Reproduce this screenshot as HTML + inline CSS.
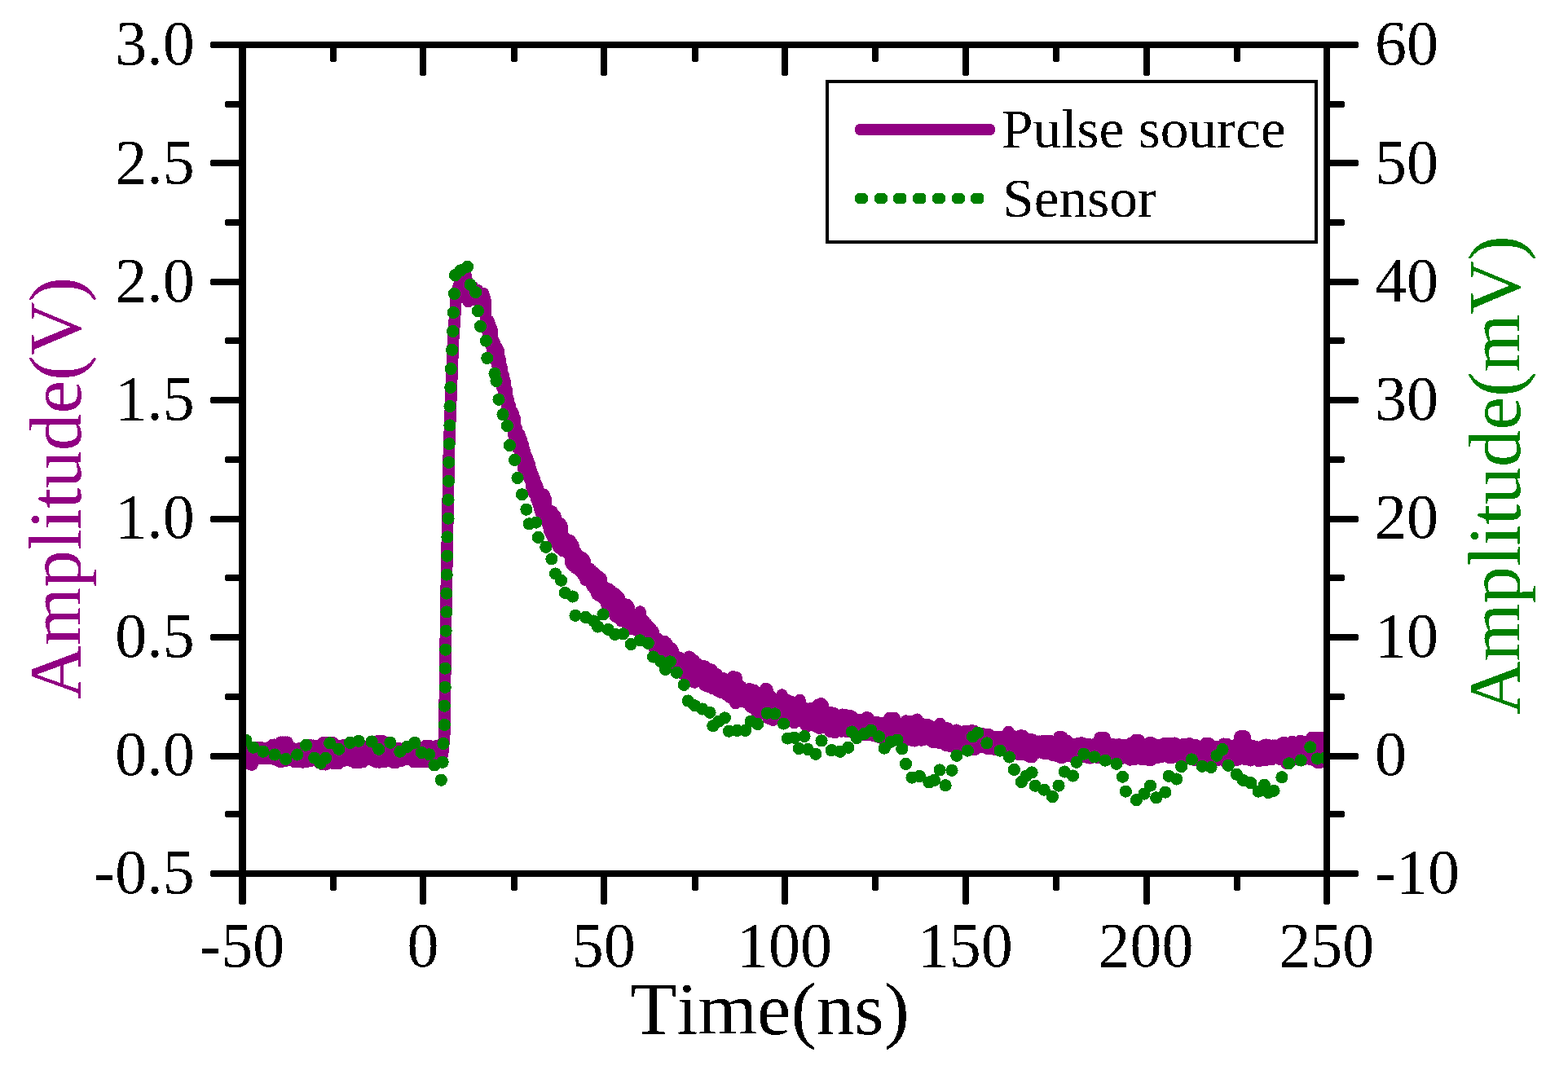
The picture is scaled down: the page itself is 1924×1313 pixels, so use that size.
<!DOCTYPE html>
<html lang="en"><head><meta charset="utf-8"><title>Pulse source vs Sensor</title>
<style>
html,body{margin:0;padding:0;background:#fff;}
body{width:1924px;height:1313px;overflow:hidden;}
svg{display:block;}
</style></head><body>
<svg width="1924" height="1313" viewBox="0 0 1924 1313" shape-rendering="crispEdges">
<rect x="0" y="0" width="1924" height="1313" fill="#fff"/>
<clipPath id="clip"><rect x="297" y="55" width="1331" height="1017"/></clipPath>
<g clip-path="url(#clip)">
<path d="M297.5 937.6 L298.5 917.4 L299.5 937.2 L300.5 917.9 L301.5 936.0 L302.5 918.6 L303.5 936.9 L304.5 918.6 L305.5 936.4 L306.5 918.7 L307.5 938.3 L308.5 918.6 L309.5 938.4 L310.5 918.8 L311.5 931.0 L312.5 918.8 L313.5 931.0 L314.5 918.9 L315.5 931.1 L316.5 917.4 L317.5 931.2 L318.5 917.4 L319.5 930.9 L320.5 917.4 L321.5 930.9 L322.5 919.3 L323.5 931.1 L324.5 919.4 L325.5 930.9 L326.5 919.2 L327.5 931.0 L328.5 919.1 L329.5 930.7 L330.5 916.7 L331.5 930.9 L332.5 916.8 L333.5 931.0 L334.5 913.9 L335.5 930.8 L336.5 913.8 L337.5 932.3 L338.5 916.2 L339.5 932.5 L340.5 916.2 L341.5 932.6 L342.5 916.2 L343.5 934.8 L344.5 910.7 L345.5 934.8 L346.5 910.7 L347.5 931.3 L348.5 910.7 L349.5 931.2 L350.5 910.7 L351.5 933.4 L352.5 910.7 L353.5 933.0 L354.5 917.8 L355.5 932.6 L356.5 917.8 L357.5 932.9 L358.5 917.7 L359.5 932.3 L360.5 919.8 L361.5 935.0 L362.5 919.7 L363.5 935.0 L364.5 919.6 L365.5 935.0 L366.5 919.3 L367.5 935.0 L368.5 918.0 L369.5 934.7 L370.5 918.4 L371.5 935.4 L372.5 918.1 L373.5 935.2 L374.5 914.8 L375.5 935.1 L376.5 915.0 L377.5 933.6 L378.5 914.8 L379.5 933.2 L380.5 914.4 L381.5 933.7 L382.5 915.2 L383.5 931.7 L384.5 914.8 L385.5 931.7 L386.5 915.6 L387.5 931.5 L388.5 915.6 L389.5 931.8 L390.5 916.2 L391.5 936.2 L392.5 916.8 L393.5 936.9 L394.5 916.5 L395.5 938.1 L396.5 911.3 L397.5 937.8 L398.5 911.3 L399.5 938.3 L400.5 911.3 L401.5 934.3 L402.5 911.3 L403.5 934.2 L404.5 911.3 L405.5 934.5 L406.5 911.3 L407.5 935.0 L408.5 911.3 L409.5 937.1 L410.5 918.9 L411.5 937.1 L412.5 918.9 L413.5 937.1 L414.5 919.1 L415.5 937.1 L416.5 915.5 L417.5 931.8 L418.5 915.6 L419.5 932.5 L420.5 914.6 L421.5 933.5 L422.5 914.4 L423.5 933.3 L424.5 914.4 L425.5 933.0 L426.5 914.9 L427.5 933.2 L428.5 916.5 L429.5 933.4 L430.5 917.0 L431.5 932.9 L432.5 917.0 L433.5 932.9 L434.5 915.2 L435.5 935.9 L436.5 915.8 L437.5 935.6 L438.5 915.5 L439.5 936.1 L440.5 915.6 L441.5 935.1 L442.5 915.9 L443.5 935.3 L444.5 916.0 L445.5 935.2 L446.5 915.8 L447.5 931.0 L448.5 918.9 L449.5 930.7 L450.5 918.4 L451.5 930.8 L452.5 918.7 L453.5 931.1 L454.5 917.5 L455.5 932.5 L456.5 917.5 L457.5 932.7 L458.5 919.9 L459.5 932.9 L460.5 919.8 L461.5 935.3 L462.5 909.5 L463.5 935.1 L464.5 909.5 L465.5 935.5 L466.5 909.5 L467.5 935.2 L468.5 909.5 L469.5 935.2 L470.5 909.5 L471.5 934.5 L472.5 916.2 L473.5 934.5 L474.5 916.2 L475.5 932.5 L476.5 919.5 L477.5 931.7 L478.5 919.6 L479.5 931.5 L480.5 917.3 L481.5 935.5 L482.5 917.4 L483.5 935.9 L484.5 918.5 L485.5 936.1 L486.5 918.3 L487.5 933.1 L488.5 918.8 L489.5 933.0 L490.5 918.5 L491.5 933.3 L492.5 918.9 L493.5 933.5 L494.5 918.6 L495.5 930.6 L496.5 919.7 L497.5 931.9 L498.5 919.7 L499.5 932.0 L500.5 920.0 L501.5 931.9 L502.5 919.7 L503.5 931.9 L504.5 918.4 L505.5 932.2 L506.5 918.0 L507.5 935.0 L508.5 920.1 L509.5 935.0 L510.5 919.8 L511.5 935.0 L512.5 916.8 L513.5 935.0 L514.5 917.8 L515.5 933.6 L516.5 917.8 L517.5 934.0 L518.5 918.0 L519.5 934.6 L520.5 918.0 L521.5 934.5 L522.5 915.1 L523.5 935.2 L524.5 915.1 L525.5 930.7 L526.5 915.1 L527.5 931.2 L528.5 916.6 L529.5 931.0 L530.5 916.6 L531.5 930.9 L532.5 917.1 L533.5 933.3 L534.5 915.6 L535.5 933.4 L536.5 915.8 L537.5 934.7 L538.5 915.7 L539.5 934.9 L540.5 916.1 L543.0 926.0 L545.2 904.0 L547.4 740.0 L550.9 553.0 L556.0 419.0 L559.5 368.0 L563.0 350.0 L572.0 339.0 L574.5 370.0 L580.0 352.0 L583.0 368.0 L586.0 356.0 L589.0 371.0 L593.0 360.0 L595.4 368.6 L595.6 385.0 L598.5 407.7 L599.5 393.5 L600.5 418.7 L601.5 399.1 L602.5 424.0 L603.5 404.1 L604.5 429.9 L605.5 417.5 L606.5 438.3 L607.5 422.4 L608.5 442.7 L609.5 426.0 L610.5 449.3 L611.5 429.6 L612.5 453.2 L613.5 440.3 L614.5 468.6 L615.5 450.4 L616.5 476.1 L617.5 459.9 L618.5 484.0 L619.5 467.3 L620.5 491.8 L621.5 477.6 L622.5 499.0 L623.5 489.2 L624.5 508.6 L625.5 496.9 L626.5 516.4 L627.5 504.3 L628.5 524.0 L629.5 506.6 L630.5 534.6 L631.5 513.0 L632.5 541.6 L633.5 524.8 L634.5 549.2 L635.5 531.5 L636.5 551.3 L637.5 533.1 L638.5 557.1 L639.5 538.5 L640.5 562.6 L641.5 544.7 L642.5 576.2 L643.5 552.4 L644.5 581.7 L645.5 558.7 L646.5 579.7 L647.5 563.3 L648.5 584.3 L649.5 568.6 L650.5 589.4 L651.5 576.2 L652.5 598.6 L653.5 581.5 L654.5 604.2 L655.5 587.0 L656.5 606.9 L657.5 592.6 L658.5 613.0 L659.5 597.2 L660.5 618.9 L661.5 603.5 L662.5 625.6 L663.5 607.0 L664.5 631.8 L665.5 611.7 L666.5 635.5 L667.5 606.8 L668.5 636.9 L669.5 611.7 L670.5 640.3 L671.5 624.3 L672.5 644.6 L673.5 628.0 L674.5 652.1 L675.5 631.9 L676.5 656.4 L677.5 627.5 L678.5 660.5 L679.5 630.9 L680.5 662.7 L681.5 633.1 L682.5 665.2 L683.5 643.6 L684.5 670.2 L685.5 646.7 L686.5 672.7 L687.5 642.2 L688.5 672.7 L689.5 645.2 L690.5 676.1 L691.5 658.0 L692.5 672.8 L693.5 660.5 L694.5 675.6 L695.5 663.2 L696.5 678.4 L697.5 665.8 L698.5 681.0 L699.5 663.2 L700.5 691.5 L701.5 665.8 L702.5 694.1 L703.5 669.2 L704.5 694.8 L705.5 675.7 L706.5 697.5 L707.5 678.5 L708.5 697.1 L709.5 681.3 L710.5 699.2 L711.5 684.1 L712.5 702.1 L713.5 683.5 L714.5 704.3 L715.5 685.2 L716.5 707.1 L717.5 687.7 L718.5 711.6 L719.5 694.9 L720.5 710.6 L721.5 697.2 L722.5 712.6 L723.5 697.5 L724.5 715.1 L725.5 699.7 L726.5 719.4 L727.5 702.3 L728.5 721.4 L729.5 703.1 L730.5 723.9 L731.5 705.1 L732.5 729.2 L733.5 707.9 L734.5 730.8 L735.5 708.1 L736.5 730.3 L737.5 709.7 L738.5 733.0 L739.5 718.2 L740.5 734.6 L741.5 720.4 L742.5 737.0 L743.5 722.4 L744.5 742.7 L745.5 724.7 L746.5 744.7 L747.5 722.8 L748.5 747.1 L749.5 724.5 L750.5 748.6 L751.5 726.7 L752.5 750.3 L753.5 728.7 L754.5 755.6 L755.5 728.8 L756.5 757.5 L757.5 731.0 L758.5 757.5 L759.5 733.0 L760.5 759.9 L761.5 737.5 L762.5 762.2 L763.5 739.5 L764.5 761.0 L765.5 741.4 L766.5 762.7 L767.5 743.6 L768.5 764.5 L769.5 742.1 L770.5 765.4 L771.5 744.7 L772.5 767.4 L773.5 752.1 L774.5 772.2 L775.5 754.4 L776.5 768.5 L777.5 755.7 L778.5 770.1 L779.5 757.9 L780.5 772.1 L781.5 757.9 L782.5 774.4 L783.5 760.1 L784.5 776.2 L785.5 750.6 L786.5 778.3 L787.5 759.9 L788.5 780.0 L789.5 761.4 L790.5 782.7 L791.5 763.6 L792.5 784.3 L793.5 765.6 L794.5 786.4 L795.5 768.5 L796.5 787.5 L797.5 769.8 L798.5 789.3 L799.5 772.7 L800.5 791.6 L801.5 774.5 L802.5 795.5 L803.5 780.5 L804.5 798.0 L805.5 782.6 L806.5 802.7 L807.5 784.4 L808.5 805.3 L809.5 786.4 L810.5 807.0 L811.5 787.4 L812.5 808.7 L813.5 789.6 L814.5 811.5 L815.5 787.1 L816.5 812.4 L817.5 788.5 L818.5 814.6 L819.5 791.5 L820.5 817.1 L821.5 793.8 L822.5 818.8 L823.5 795.3 L824.5 817.5 L825.5 797.6 L826.5 819.3 L827.5 803.2 L828.5 821.5 L829.5 805.2 L830.5 821.3 L831.5 806.8 L832.5 822.4 L833.5 807.9 L834.5 823.3 L835.5 807.5 L836.5 824.3 L837.5 808.6 L838.5 827.5 L839.5 809.1 L840.5 828.9 L841.5 810.3 L842.5 831.4 L843.5 811.0 L844.5 832.7 L845.5 805.7 L846.5 833.7 L847.5 806.9 L848.5 835.5 L849.5 809.6 L850.5 836.8 L851.5 810.3 L852.5 837.5 L853.5 814.0 L854.5 834.0 L855.5 814.4 L856.5 835.2 L857.5 817.6 L858.5 835.7 L859.5 818.6 L860.5 836.8 L861.5 819.2 L862.5 837.6 L863.5 817.4 L864.5 840.7 L865.5 818.1 L866.5 841.8 L867.5 819.8 L868.5 842.0 L869.5 820.7 L870.5 843.1 L871.5 821.3 L872.5 843.6 L873.5 822.1 L874.5 845.0 L875.5 825.2 L876.5 845.0 L877.5 826.2 L878.5 845.7 L879.5 827.4 L880.5 847.8 L881.5 830.7 L882.5 848.4 L883.5 833.3 L884.5 849.6 L885.5 834.1 L886.5 850.0 L887.5 832.3 L888.5 850.6 L889.5 833.8 L890.5 852.0 L891.5 834.6 L892.5 853.3 L893.5 835.4 L894.5 855.1 L895.5 838.2 L896.5 856.0 L897.5 839.1 L898.5 856.5 L899.5 830.2 L900.5 857.5 L901.5 831.2 L902.5 863.0 L903.5 831.4 L904.5 857.6 L905.5 840.6 L906.5 858.9 L907.5 841.0 L908.5 859.7 L909.5 842.5 L910.5 860.7 L911.5 845.6 L912.5 860.7 L913.5 846.6 L914.5 861.6 L915.5 847.2 L916.5 862.9 L917.5 848.1 L918.5 864.0 L919.5 845.4 L920.5 867.0 L921.5 845.8 L922.5 867.6 L923.5 846.9 L924.5 869.2 L925.5 847.0 L926.5 869.7 L927.5 851.3 L928.5 873.8 L929.5 852.3 L930.5 875.1 L931.5 853.4 L932.5 875.3 L933.5 850.4 L934.5 875.0 L935.5 851.1 L936.5 875.7 L937.5 852.1 L938.5 875.8 L939.5 845.1 L940.5 877.0 L941.5 846.1 L942.5 881.5 L943.5 853.8 L944.5 877.7 L945.5 854.3 L946.5 878.4 L947.5 859.7 L948.5 883.7 L949.5 860.1 L950.5 875.1 L951.5 860.8 L952.5 875.3 L953.5 861.2 L954.5 881.3 L955.5 860.2 L956.5 881.4 L957.5 860.8 L958.5 882.0 L959.5 852.6 L960.5 882.4 L961.5 858.1 L962.5 877.3 L963.5 859.1 L964.5 878.2 L965.5 858.9 L966.5 878.5 L967.5 860.2 L968.5 879.9 L969.5 860.5 L970.5 885.3 L971.5 861.3 L972.5 885.5 L973.5 861.7 L974.5 886.9 L975.5 862.0 L976.5 882.5 L977.5 863.3 L978.5 883.7 L979.5 863.2 L980.5 884.2 L981.5 859.1 L982.5 884.8 L983.5 867.7 L984.5 885.5 L985.5 868.2 L986.5 885.8 L987.5 869.1 L988.5 889.9 L989.5 871.5 L990.5 890.9 L991.5 871.8 L992.5 890.6 L993.5 872.2 L994.5 887.5 L995.5 869.1 L996.5 888.3 L997.5 869.5 L998.5 888.4 L999.5 870.2 L1000.5 888.7 L1001.5 870.2 L1002.5 892.5 L1003.5 865.0 L1004.5 893.5 L1005.5 866.0 L1006.5 893.5 L1007.5 863.3 L1008.5 889.4 L1009.5 864.8 L1010.5 889.8 L1011.5 877.0 L1012.5 890.1 L1013.5 877.5 L1014.5 893.8 L1015.5 878.1 L1016.5 893.8 L1017.5 878.4 L1018.5 897.6 L1019.5 874.5 L1020.5 897.7 L1021.5 874.8 L1022.5 897.9 L1023.5 875.4 L1024.5 899.1 L1025.5 879.2 L1026.5 893.6 L1027.5 879.8 L1028.5 894.2 L1029.5 880.2 L1030.5 894.4 L1031.5 880.5 L1032.5 897.4 L1033.5 876.7 L1034.5 895.5 L1035.5 877.4 L1036.5 895.8 L1037.5 877.6 L1038.5 897.6 L1039.5 877.7 L1040.5 897.8 L1041.5 878.1 L1042.5 897.9 L1043.5 878.2 L1044.5 898.3 L1045.5 879.3 L1046.5 899.1 L1047.5 883.5 L1048.5 899.0 L1049.5 883.4 L1050.5 899.7 L1051.5 883.0 L1052.5 899.2 L1053.5 883.4 L1054.5 901.7 L1055.5 884.0 L1056.5 901.8 L1057.5 883.2 L1058.5 901.6 L1059.5 883.2 L1060.5 902.0 L1061.5 883.9 L1062.5 900.6 L1063.5 880.3 L1064.5 900.9 L1065.5 880.9 L1066.5 902.0 L1067.5 885.7 L1068.5 902.0 L1069.5 886.1 L1070.5 902.4 L1071.5 886.2 L1072.5 903.0 L1073.5 886.7 L1074.5 903.5 L1075.5 886.3 L1076.5 903.8 L1077.5 886.5 L1078.5 904.7 L1079.5 887.0 L1080.5 905.4 L1081.5 887.7 L1082.5 905.5 L1083.5 887.5 L1084.5 901.6 L1085.5 887.3 L1086.5 901.3 L1087.5 887.8 L1088.5 901.6 L1089.5 887.5 L1090.5 901.7 L1091.5 881.0 L1092.5 902.5 L1093.5 881.0 L1094.5 902.3 L1095.5 881.0 L1096.5 902.8 L1097.5 881.0 L1098.5 905.7 L1099.5 887.3 L1100.5 906.2 L1101.5 887.7 L1102.5 905.8 L1103.5 887.5 L1104.5 906.5 L1105.5 888.1 L1106.5 906.9 L1107.5 888.3 L1108.5 906.7 L1109.5 888.1 L1110.5 907.1 L1111.5 884.5 L1112.5 905.5 L1113.5 884.9 L1114.5 905.6 L1115.5 885.0 L1116.5 908.2 L1117.5 885.4 L1118.5 908.4 L1119.5 889.3 L1120.5 908.9 L1121.5 889.3 L1122.5 909.3 L1123.5 889.7 L1124.5 906.9 L1125.5 882.8 L1126.5 907.9 L1127.5 887.9 L1128.5 908.2 L1129.5 888.2 L1130.5 908.4 L1131.5 888.7 L1132.5 908.2 L1133.5 888.7 L1134.5 905.4 L1135.5 889.1 L1136.5 905.3 L1137.5 889.2 L1138.5 905.8 L1139.5 889.6 L1140.5 905.6 L1141.5 892.5 L1142.5 909.4 L1143.5 892.9 L1144.5 910.7 L1145.5 891.9 L1146.5 910.9 L1147.5 892.0 L1148.5 910.8 L1149.5 892.1 L1150.5 910.6 L1151.5 892.6 L1152.5 911.7 L1153.5 887.9 L1154.5 908.5 L1155.5 894.6 L1156.5 908.7 L1157.5 895.0 L1158.5 912.7 L1159.5 895.4 L1160.5 914.7 L1161.5 893.4 L1162.5 914.2 L1163.5 893.8 L1164.5 915.4 L1165.5 897.9 L1166.5 916.2 L1167.5 898.1 L1168.5 916.1 L1169.5 898.4 L1170.5 916.8 L1171.5 899.0 L1172.5 916.7 L1173.5 895.8 L1174.5 916.3 L1175.5 896.5 L1176.5 916.8 L1177.5 898.9 L1178.5 917.3 L1179.5 899.3 L1180.5 912.8 L1181.5 899.5 L1182.5 913.2 L1183.5 897.3 L1184.5 913.5 L1185.5 897.3 L1186.5 913.4 L1187.5 900.1 L1188.5 918.0 L1189.5 900.4 L1190.5 918.8 L1191.5 896.5 L1192.5 918.9 L1193.5 896.5 L1194.5 919.7 L1195.5 897.0 L1196.5 919.8 L1197.5 902.6 L1198.5 916.0 L1199.5 902.6 L1200.5 916.0 L1201.5 901.4 L1202.5 916.2 L1203.5 901.3 L1204.5 916.4 L1205.5 900.4 L1206.5 915.7 L1207.5 900.8 L1208.5 915.8 L1209.5 901.1 L1210.5 918.5 L1211.5 901.1 L1212.5 918.4 L1213.5 901.3 L1214.5 919.0 L1215.5 903.8 L1216.5 919.0 L1217.5 904.1 L1218.5 919.3 L1219.5 904.2 L1220.5 919.7 L1221.5 903.9 L1222.5 919.5 L1223.5 904.1 L1224.5 916.7 L1225.5 903.9 L1226.5 916.9 L1227.5 903.9 L1228.5 920.6 L1229.5 904.2 L1230.5 918.3 L1231.5 904.6 L1232.5 918.2 L1233.5 904.6 L1234.5 918.3 L1235.5 904.6 L1236.5 918.8 L1237.5 897.9 L1238.5 924.6 L1239.5 902.8 L1240.5 920.6 L1241.5 903.1 L1242.5 920.5 L1243.5 903.4 L1244.5 920.7 L1245.5 906.0 L1246.5 923.9 L1247.5 906.0 L1248.5 923.4 L1249.5 906.2 L1250.5 926.1 L1251.5 902.7 L1252.5 926.2 L1253.5 902.6 L1254.5 921.4 L1255.5 903.1 L1256.5 923.7 L1257.5 908.0 L1258.5 924.0 L1259.5 908.5 L1260.5 927.5 L1261.5 909.0 L1262.5 928.0 L1263.5 907.3 L1264.5 929.1 L1265.5 907.2 L1266.5 928.9 L1267.5 907.9 L1268.5 923.8 L1269.5 910.1 L1270.5 923.9 L1271.5 910.5 L1272.5 922.7 L1273.5 909.8 L1274.5 923.3 L1275.5 909.7 L1276.5 923.3 L1277.5 910.1 L1278.5 923.5 L1279.5 909.2 L1280.5 924.5 L1281.5 909.1 L1282.5 924.9 L1283.5 909.7 L1284.5 924.9 L1285.5 909.5 L1286.5 925.0 L1287.5 909.4 L1288.5 925.4 L1289.5 909.4 L1290.5 925.8 L1291.5 911.8 L1292.5 927.2 L1293.5 911.7 L1294.5 927.3 L1295.5 912.0 L1296.5 927.0 L1297.5 911.9 L1298.5 927.4 L1299.5 904.2 L1300.5 929.5 L1301.5 905.0 L1302.5 929.4 L1303.5 904.6 L1304.5 929.5 L1305.5 909.5 L1306.5 927.8 L1307.5 909.2 L1308.5 927.5 L1309.5 908.9 L1310.5 927.7 L1311.5 913.5 L1312.5 928.2 L1313.5 913.8 L1314.5 927.5 L1315.5 913.1 L1316.5 927.6 L1317.5 913.4 L1318.5 927.6 L1319.5 913.3 L1320.5 927.8 L1321.5 913.5 L1322.5 926.7 L1323.5 911.9 L1324.5 927.0 L1325.5 911.8 L1326.5 926.9 L1327.5 911.5 L1328.5 928.5 L1329.5 912.4 L1330.5 928.5 L1331.5 913.7 L1332.5 928.8 L1333.5 913.4 L1334.5 929.9 L1335.5 913.7 L1336.5 930.3 L1337.5 913.6 L1338.5 930.3 L1339.5 913.9 L1340.5 927.7 L1341.5 914.0 L1342.5 927.6 L1343.5 913.9 L1344.5 927.9 L1345.5 911.6 L1346.5 929.6 L1347.5 911.7 L1348.5 929.5 L1349.5 905.3 L1350.5 927.2 L1351.5 905.3 L1352.5 929.7 L1353.5 905.3 L1354.5 929.2 L1355.5 905.3 L1356.5 927.7 L1357.5 913.3 L1358.5 927.7 L1359.5 913.4 L1360.5 927.9 L1361.5 913.0 L1362.5 928.0 L1363.5 913.6 L1364.5 929.0 L1365.5 913.6 L1366.5 928.8 L1367.5 913.8 L1368.5 928.8 L1369.5 913.7 L1370.5 931.6 L1371.5 913.8 L1372.5 931.6 L1373.5 913.5 L1374.5 931.6 L1375.5 914.1 L1376.5 927.5 L1377.5 915.8 L1378.5 929.9 L1379.5 915.8 L1380.5 929.9 L1381.5 914.1 L1382.5 929.8 L1383.5 914.1 L1384.5 930.0 L1385.5 914.3 L1386.5 932.4 L1387.5 912.0 L1388.5 931.7 L1389.5 912.1 L1390.5 931.7 L1391.5 912.2 L1392.5 931.8 L1393.5 907.9 L1394.5 930.4 L1395.5 908.4 L1396.5 930.5 L1397.5 908.2 L1398.5 930.6 L1399.5 913.4 L1400.5 931.6 L1401.5 913.7 L1402.5 931.4 L1403.5 914.3 L1404.5 931.4 L1405.5 914.1 L1406.5 931.5 L1407.5 914.5 L1408.5 932.2 L1409.5 911.5 L1410.5 933.0 L1411.5 911.5 L1412.5 932.7 L1413.5 911.5 L1414.5 929.8 L1415.5 914.2 L1416.5 929.9 L1417.5 913.9 L1418.5 929.5 L1419.5 914.2 L1420.5 929.7 L1421.5 914.8 L1422.5 928.3 L1423.5 914.7 L1424.5 928.5 L1425.5 914.4 L1426.5 928.4 L1427.5 912.6 L1428.5 927.9 L1429.5 912.6 L1430.5 928.1 L1431.5 912.5 L1432.5 927.9 L1433.5 912.6 L1434.5 929.8 L1435.5 912.0 L1436.5 929.7 L1437.5 911.9 L1438.5 929.7 L1439.5 911.9 L1440.5 927.9 L1441.5 911.7 L1442.5 928.1 L1443.5 914.0 L1444.5 927.8 L1445.5 914.3 L1446.5 927.8 L1447.5 914.2 L1448.5 930.3 L1449.5 914.2 L1450.5 930.7 L1451.5 913.2 L1452.5 930.3 L1453.5 913.1 L1454.5 930.7 L1455.5 913.0 L1456.5 930.8 L1457.5 912.9 L1458.5 930.9 L1459.5 912.3 L1460.5 928.5 L1461.5 914.1 L1462.5 931.4 L1463.5 913.8 L1464.5 931.2 L1465.5 914.0 L1466.5 933.1 L1467.5 914.2 L1468.5 933.0 L1469.5 916.9 L1470.5 929.1 L1471.5 916.9 L1472.5 929.2 L1473.5 916.9 L1474.5 929.1 L1475.5 915.6 L1476.5 929.5 L1477.5 915.4 L1478.5 930.9 L1479.5 912.0 L1480.5 931.3 L1481.5 911.9 L1482.5 930.9 L1483.5 912.4 L1484.5 929.5 L1485.5 916.4 L1486.5 929.3 L1487.5 916.2 L1488.5 929.6 L1489.5 916.1 L1490.5 932.7 L1491.5 916.3 L1492.5 932.8 L1493.5 916.5 L1494.5 932.8 L1495.5 916.6 L1496.5 931.5 L1497.5 916.1 L1498.5 931.6 L1499.5 916.5 L1500.5 931.3 L1501.5 912.7 L1502.5 931.6 L1503.5 912.9 L1504.5 935.6 L1505.5 912.9 L1506.5 935.4 L1507.5 916.5 L1508.5 928.9 L1509.5 916.5 L1510.5 928.9 L1511.5 917.5 L1512.5 932.3 L1513.5 917.2 L1514.5 932.1 L1515.5 914.2 L1516.5 933.1 L1517.5 914.3 L1518.5 932.6 L1519.5 914.3 L1520.5 929.9 L1521.5 903.6 L1522.5 930.1 L1523.5 903.6 L1524.5 930.1 L1525.5 903.6 L1526.5 929.9 L1527.5 903.6 L1528.5 932.1 L1529.5 917.0 L1530.5 931.6 L1531.5 917.1 L1532.5 931.8 L1533.5 914.8 L1534.5 933.3 L1535.5 914.7 L1536.5 929.0 L1537.5 915.3 L1538.5 929.3 L1539.5 916.1 L1540.5 929.1 L1541.5 916.2 L1542.5 929.4 L1543.5 916.8 L1544.5 934.0 L1545.5 916.8 L1546.5 932.4 L1547.5 917.1 L1548.5 932.6 L1549.5 916.9 L1550.5 932.5 L1551.5 914.3 L1552.5 932.9 L1553.5 913.8 L1554.5 932.4 L1555.5 914.0 L1556.5 932.2 L1557.5 917.7 L1558.5 931.9 L1559.5 917.6 L1560.5 932.0 L1561.5 914.7 L1562.5 929.1 L1563.5 914.7 L1564.5 929.4 L1565.5 914.8 L1566.5 930.0 L1567.5 914.7 L1568.5 930.2 L1569.5 918.1 L1570.5 931.7 L1571.5 918.2 L1572.5 931.6 L1573.5 911.5 L1574.5 931.5 L1575.5 911.0 L1576.5 931.6 L1577.5 918.3 L1578.5 936.6 L1579.5 918.6 L1580.5 936.9 L1581.5 917.2 L1582.5 933.3 L1583.5 917.1 L1584.5 932.9 L1585.5 909.9 L1586.5 931.3 L1587.5 914.3 L1588.5 931.4 L1589.5 914.7 L1590.5 931.1 L1591.5 914.6 L1592.5 931.7 L1593.5 914.4 L1594.5 931.6 L1595.5 908.9 L1596.5 932.3 L1597.5 909.7 L1598.5 932.6 L1599.5 910.0 L1600.5 930.1 L1601.5 918.5 L1602.5 930.2 L1603.5 918.4 L1604.5 930.2 L1605.5 918.4 L1606.5 930.6 L1607.5 918.5 L1608.5 932.2 L1609.5 905.0 L1610.5 932.4 L1611.5 905.0 L1612.5 930.9 L1613.5 905.0 L1614.5 931.0 L1615.5 905.0 L1616.5 935.7 L1617.5 905.0 L1618.5 935.9 L1619.5 905.0 L1620.5 935.3 L1621.5 905.0 L1622.5 933.6 L1623.5 905.0 L1624.5 933.6 L1625.5 916.0 L1626.5 933.9 L1627.5 916.0 L1628.5 932.3" fill="none" stroke="#910082" stroke-width="14.6" stroke-linejoin="round" stroke-linecap="round"/>
<g fill="#008000">
<circle cx="301.9" cy="908.4" r="7.6"/>
<circle cx="310.7" cy="917.2" r="7.6"/>
<circle cx="322.9" cy="922.2" r="7.6"/>
<circle cx="337.1" cy="926.0" r="7.6"/>
<circle cx="350.7" cy="931.4" r="7.6"/>
<circle cx="364.8" cy="926.0" r="7.6"/>
<circle cx="375.4" cy="914.3" r="7.6"/>
<circle cx="385.8" cy="930.1" r="7.6"/>
<circle cx="393.3" cy="936.4" r="7.6"/>
<circle cx="399.6" cy="930.4" r="7.6"/>
<circle cx="404.7" cy="911.8" r="7.6"/>
<circle cx="415.7" cy="919.3" r="7.6"/>
<circle cx="429.5" cy="911.3" r="7.6"/>
<circle cx="440.2" cy="909.3" r="7.6"/>
<circle cx="456.1" cy="910.0" r="7.6"/>
<circle cx="464.7" cy="919.3" r="7.6"/>
<circle cx="478.9" cy="911.3" r="7.6"/>
<circle cx="490.8" cy="922.2" r="7.6"/>
<circle cx="499.8" cy="916.3" r="7.6"/>
<circle cx="508.9" cy="911.3" r="7.6"/>
<circle cx="517.4" cy="923.5" r="7.6"/>
<circle cx="526.5" cy="925.8" r="7.6"/>
<circle cx="533.0" cy="938.9" r="7.6"/>
<circle cx="543.1" cy="935.3" r="7.6"/>
<circle cx="541.3" cy="957.2" r="7.6"/>
<circle cx="544.0" cy="912.4" r="7.6"/>
<circle cx="545.3" cy="889.4" r="7.6"/>
<circle cx="545.3" cy="866.2" r="7.6"/>
<circle cx="546.2" cy="843.3" r="7.6"/>
<circle cx="546.2" cy="820.1" r="7.6"/>
<circle cx="546.7" cy="797.2" r="7.6"/>
<circle cx="547.1" cy="774.2" r="7.6"/>
<circle cx="548.0" cy="751.0" r="7.6"/>
<circle cx="547.9" cy="728.1" r="7.6"/>
<circle cx="548.2" cy="705.1" r="7.6"/>
<circle cx="548.7" cy="682.2" r="7.6"/>
<circle cx="549.0" cy="659.0" r="7.6"/>
<circle cx="550.0" cy="636.1" r="7.6"/>
<circle cx="550.0" cy="613.3" r="7.6"/>
<circle cx="550.4" cy="590.4" r="7.6"/>
<circle cx="550.9" cy="567.4" r="7.6"/>
<circle cx="551.2" cy="544.6" r="7.6"/>
<circle cx="552.0" cy="522.0" r="7.6"/>
<circle cx="552.0" cy="498.5" r="7.6"/>
<circle cx="552.9" cy="475.4" r="7.6"/>
<circle cx="553.2" cy="452.5" r="7.6"/>
<circle cx="554.6" cy="429.3" r="7.6"/>
<circle cx="555.6" cy="406.5" r="7.6"/>
<circle cx="556.4" cy="383.5" r="7.6"/>
<circle cx="557.5" cy="360.5" r="7.6"/>
<circle cx="558.5" cy="337.6" r="7.6"/>
<circle cx="565.2" cy="331.8" r="7.6"/>
<circle cx="573.6" cy="327.2" r="7.6"/>
<circle cx="577.1" cy="349.4" r="7.6"/>
<circle cx="583.7" cy="358.6" r="7.6"/>
<circle cx="586.4" cy="381.5" r="7.6"/>
<circle cx="589.5" cy="400.5" r="7.6"/>
<circle cx="596.4" cy="418.2" r="7.6"/>
<circle cx="597.8" cy="439.4" r="7.6"/>
<circle cx="607.0" cy="458.3" r="7.6"/>
<circle cx="609.0" cy="467.5" r="7.6"/>
<circle cx="612.0" cy="490.2" r="7.6"/>
<circle cx="617.0" cy="508.6" r="7.6"/>
<circle cx="622.4" cy="522.5" r="7.6"/>
<circle cx="625.4" cy="546.5" r="7.6"/>
<circle cx="631.6" cy="564.4" r="7.6"/>
<circle cx="635.0" cy="586.5" r="7.6"/>
<circle cx="640.5" cy="606.8" r="7.6"/>
<circle cx="645.9" cy="625.2" r="7.6"/>
<circle cx="649.2" cy="642.8" r="7.6"/>
<circle cx="657.6" cy="641.1" r="7.6"/>
<circle cx="660.4" cy="659.4" r="7.6"/>
<circle cx="669.8" cy="671.3" r="7.6"/>
<circle cx="676.9" cy="685.9" r="7.6"/>
<circle cx="681.5" cy="704.0" r="7.6"/>
<circle cx="688.6" cy="712.2" r="7.6"/>
<circle cx="693.3" cy="727.4" r="7.6"/>
<circle cx="702.7" cy="732.0" r="7.6"/>
<circle cx="706.0" cy="755.3" r="7.6"/>
<circle cx="718.5" cy="757.3" r="7.6"/>
<circle cx="728.6" cy="762.0" r="7.6"/>
<circle cx="740.0" cy="753.9" r="7.6"/>
<circle cx="733.6" cy="769.0" r="7.6"/>
<circle cx="746.2" cy="772.4" r="7.6"/>
<circle cx="754.6" cy="778.4" r="7.6"/>
<circle cx="764.6" cy="777.9" r="7.6"/>
<circle cx="774.2" cy="790.5" r="7.6"/>
<circle cx="785.2" cy="785.8" r="7.6"/>
<circle cx="795.3" cy="789.3" r="7.6"/>
<circle cx="801.5" cy="806.0" r="7.6"/>
<circle cx="810.7" cy="811.4" r="7.6"/>
<circle cx="822.4" cy="811.9" r="7.6"/>
<circle cx="816.5" cy="821.5" r="7.6"/>
<circle cx="830.3" cy="825.3" r="7.6"/>
<circle cx="839.2" cy="840.4" r="7.6"/>
<circle cx="844.2" cy="860.0" r="7.6"/>
<circle cx="852.6" cy="865.9" r="7.6"/>
<circle cx="861.8" cy="870.0" r="7.6"/>
<circle cx="871.0" cy="874.2" r="7.6"/>
<circle cx="889.4" cy="880.9" r="7.6"/>
<circle cx="881.9" cy="885.1" r="7.6"/>
<circle cx="874.8" cy="890.7" r="7.6"/>
<circle cx="894.4" cy="897.2" r="7.6"/>
<circle cx="904.5" cy="896.3" r="7.6"/>
<circle cx="914.5" cy="896.3" r="7.6"/>
<circle cx="921.2" cy="885.1" r="7.6"/>
<circle cx="929.6" cy="888.5" r="7.6"/>
<circle cx="941.3" cy="875.1" r="7.6"/>
<circle cx="950.6" cy="875.9" r="7.6"/>
<circle cx="961.5" cy="888.1" r="7.6"/>
<circle cx="966.5" cy="906.1" r="7.6"/>
<circle cx="974.9" cy="905.2" r="7.6"/>
<circle cx="987.0" cy="903.5" r="7.6"/>
<circle cx="980.3" cy="918.5" r="7.6"/>
<circle cx="991.2" cy="919.5" r="7.6"/>
<circle cx="1000.9" cy="925.3" r="7.6"/>
<circle cx="1008.0" cy="908.9" r="7.6"/>
<circle cx="1020.2" cy="920.6" r="7.6"/>
<circle cx="1030.8" cy="922.3" r="7.6"/>
<circle cx="1040.8" cy="917.3" r="7.6"/>
<circle cx="1045.3" cy="898.0" r="7.6"/>
<circle cx="1051.2" cy="905.5" r="7.6"/>
<circle cx="1060.4" cy="900.5" r="7.6"/>
<circle cx="1068.8" cy="896.3" r="7.6"/>
<circle cx="1078.5" cy="903.9" r="7.6"/>
<circle cx="1085.2" cy="918.1" r="7.6"/>
<circle cx="1093.1" cy="910.2" r="7.6"/>
<circle cx="1101.0" cy="908.1" r="7.6"/>
<circle cx="1106.8" cy="918.9" r="7.6"/>
<circle cx="1111.5" cy="937.4" r="7.6"/>
<circle cx="1119.0" cy="954.1" r="7.6"/>
<circle cx="1128.3" cy="952.5" r="7.6"/>
<circle cx="1140.0" cy="960.0" r="7.6"/>
<circle cx="1146.4" cy="957.5" r="7.6"/>
<circle cx="1153.1" cy="944.9" r="7.6"/>
<circle cx="1160.1" cy="963.8" r="7.6"/>
<circle cx="1168.0" cy="945.3" r="7.6"/>
<circle cx="1173.8" cy="927.3" r="7.6"/>
<circle cx="1187.4" cy="921.1" r="7.6"/>
<circle cx="1193.6" cy="903.9" r="7.6"/>
<circle cx="1199.8" cy="899.2" r="7.6"/>
<circle cx="1210.9" cy="911.9" r="7.6"/>
<circle cx="1227.1" cy="921.1" r="7.6"/>
<circle cx="1238.5" cy="929.0" r="7.6"/>
<circle cx="1244.4" cy="944.4" r="7.6"/>
<circle cx="1253.4" cy="959.5" r="7.6"/>
<circle cx="1259.4" cy="952.1" r="7.6"/>
<circle cx="1266.1" cy="947.9" r="7.6"/>
<circle cx="1270.2" cy="964.2" r="7.6"/>
<circle cx="1281.2" cy="969.1" r="7.6"/>
<circle cx="1291.4" cy="977.7" r="7.6"/>
<circle cx="1299.0" cy="964.1" r="7.6"/>
<circle cx="1306.3" cy="947.0" r="7.6"/>
<circle cx="1316.5" cy="952.0" r="7.6"/>
<circle cx="1321.0" cy="935.3" r="7.6"/>
<circle cx="1329.9" cy="925.2" r="7.6"/>
<circle cx="1342.8" cy="928.9" r="7.6"/>
<circle cx="1356.2" cy="933.1" r="7.6"/>
<circle cx="1370.0" cy="937.3" r="7.6"/>
<circle cx="1377.5" cy="953.2" r="7.6"/>
<circle cx="1381.4" cy="971.1" r="7.6"/>
<circle cx="1394.4" cy="981.7" r="7.6"/>
<circle cx="1404.0" cy="974.1" r="7.6"/>
<circle cx="1411.5" cy="964.1" r="7.6"/>
<circle cx="1418.7" cy="978.8" r="7.6"/>
<circle cx="1429.9" cy="972.1" r="7.6"/>
<circle cx="1434.1" cy="952.3" r="7.6"/>
<circle cx="1443.7" cy="956.0" r="7.6"/>
<circle cx="1449.7" cy="940.6" r="7.6"/>
<circle cx="1462.3" cy="931.9" r="7.6"/>
<circle cx="1475.2" cy="940.3" r="7.6"/>
<circle cx="1486.0" cy="941.5" r="7.6"/>
<circle cx="1493.0" cy="927.2" r="7.6"/>
<circle cx="1500.0" cy="919.6" r="7.6"/>
<circle cx="1507.2" cy="939.3" r="7.6"/>
<circle cx="1517.3" cy="950.2" r="7.6"/>
<circle cx="1525.2" cy="957.4" r="7.6"/>
<circle cx="1534.6" cy="960.6" r="7.6"/>
<circle cx="1544.2" cy="971.1" r="7.6"/>
<circle cx="1551.4" cy="963.2" r="7.6"/>
<circle cx="1556.4" cy="972.5" r="7.6"/>
<circle cx="1563.0" cy="970.3" r="7.6"/>
<circle cx="1572.9" cy="953.7" r="7.6"/>
<circle cx="1581.6" cy="936.8" r="7.6"/>
<circle cx="1596.2" cy="933.0" r="7.6"/>
<circle cx="1607.8" cy="916.8" r="7.6"/>
<circle cx="1616.3" cy="931.0" r="7.6"/>
<circle cx="1626.0" cy="930.0" r="7.6"/>
</g></g>
<g fill="#000">
<rect x="258" y="51" width="1409" height="8" rx="3"/>
<rect x="258" y="1068" width="1409" height="8" rx="3"/>
<rect x="293" y="51" width="9" height="1059" rx="3"/>
<rect x="1624" y="51" width="8" height="1059" rx="3"/>
<rect x="276" y="995" width="20" height="8" rx="3"/>
<rect x="1630" y="995" width="20" height="8" rx="3"/>
<rect x="258" y="924" width="38" height="8" rx="3"/>
<rect x="1630" y="924" width="37" height="8" rx="3"/>
<rect x="276" y="851" width="20" height="8" rx="3"/>
<rect x="1630" y="851" width="20" height="8" rx="3"/>
<rect x="258" y="778" width="38" height="8" rx="3"/>
<rect x="1630" y="778" width="37" height="8" rx="3"/>
<rect x="276" y="705" width="20" height="8" rx="3"/>
<rect x="1630" y="705" width="20" height="8" rx="3"/>
<rect x="258" y="633" width="38" height="8" rx="3"/>
<rect x="1630" y="633" width="37" height="8" rx="3"/>
<rect x="276" y="560" width="20" height="8" rx="3"/>
<rect x="1630" y="560" width="20" height="8" rx="3"/>
<rect x="258" y="487" width="38" height="8" rx="3"/>
<rect x="1630" y="487" width="37" height="8" rx="3"/>
<rect x="276" y="414" width="20" height="8" rx="3"/>
<rect x="1630" y="414" width="20" height="8" rx="3"/>
<rect x="258" y="342" width="38" height="8" rx="3"/>
<rect x="1630" y="342" width="37" height="8" rx="3"/>
<rect x="276" y="269" width="20" height="8" rx="3"/>
<rect x="1630" y="269" width="20" height="8" rx="3"/>
<rect x="258" y="196" width="38" height="8" rx="3"/>
<rect x="1630" y="196" width="37" height="8" rx="3"/>
<rect x="276" y="124" width="20" height="8" rx="3"/>
<rect x="1630" y="124" width="20" height="8" rx="3"/>
<rect x="405" y="55" width="8" height="21" rx="3"/>
<rect x="405" y="1072" width="8" height="21" rx="3"/>
<rect x="515" y="55" width="8" height="38" rx="3"/>
<rect x="515" y="1072" width="8" height="38" rx="3"/>
<rect x="627" y="55" width="8" height="21" rx="3"/>
<rect x="627" y="1072" width="8" height="21" rx="3"/>
<rect x="737" y="55" width="8" height="38" rx="3"/>
<rect x="737" y="1072" width="8" height="38" rx="3"/>
<rect x="849" y="55" width="8" height="21" rx="3"/>
<rect x="849" y="1072" width="8" height="21" rx="3"/>
<rect x="959" y="55" width="8" height="38" rx="3"/>
<rect x="959" y="1072" width="8" height="38" rx="3"/>
<rect x="1070" y="55" width="8" height="21" rx="3"/>
<rect x="1070" y="1072" width="8" height="21" rx="3"/>
<rect x="1181" y="55" width="8" height="38" rx="3"/>
<rect x="1181" y="1072" width="8" height="38" rx="3"/>
<rect x="1292" y="55" width="8" height="21" rx="3"/>
<rect x="1292" y="1072" width="8" height="21" rx="3"/>
<rect x="1403" y="55" width="8" height="38" rx="3"/>
<rect x="1403" y="1072" width="8" height="38" rx="3"/>
<rect x="1514" y="55" width="8" height="21" rx="3"/>
<rect x="1514" y="1072" width="8" height="21" rx="3"/>
</g>
<rect x="1015" y="100" width="600" height="197" fill="#fff" stroke="#000" stroke-width="4"/>
<rect x="1049" y="152" width="172" height="14" rx="6" fill="#910082"/>
<polygon points="1052.2,237 1061.8,237 1065.0,240.2 1065.0,246.8 1061.8,250 1052.2,250 1049.0,246.8 1049.0,240.2" fill="#008000"/>
<polygon points="1076.1,237 1085.7,237 1088.9,240.2 1088.9,246.8 1085.7,250 1076.1,250 1072.9,246.8 1072.9,240.2" fill="#008000"/>
<polygon points="1099.6,237 1109.2,237 1112.4,240.2 1112.4,246.8 1109.2,250 1099.6,250 1096.4,246.8 1096.4,240.2" fill="#008000"/>
<polygon points="1123.5,237 1133.1,237 1136.3,240.2 1136.3,246.8 1133.1,250 1123.5,250 1120.3,246.8 1120.3,240.2" fill="#008000"/>
<polygon points="1147.2,237 1156.8,237 1160.0,240.2 1160.0,246.8 1156.8,250 1147.2,250 1144.0,246.8 1144.0,240.2" fill="#008000"/>
<polygon points="1171.1,237 1180.7,237 1183.9,240.2 1183.9,246.8 1180.7,250 1171.1,250 1167.9,246.8 1167.9,240.2" fill="#008000"/>
<polygon points="1194.6,237 1204.2,237 1207.4,240.2 1207.4,246.8 1204.2,250 1194.6,250 1191.4,246.8 1191.4,240.2" fill="#008000"/>
<filter id="aa" x="0" y="0" width="1924" height="1313" filterUnits="userSpaceOnUse" color-interpolation-filters="sRGB"><feComponentTransfer><feFuncA type="discrete" tableValues="0 1"/></feComponentTransfer></filter>
<g font-family="'Liberation Serif', 'Times New Roman', serif" fill="#000" style="font-kerning:none" font-kerning="none" filter="url(#aa)">
<text x="238.7" y="1096.3" font-size="78" text-anchor="end">-0.5</text>
<text x="238.7" y="951.0" font-size="78" text-anchor="end">0.0</text>
<text x="238.7" y="805.7" font-size="78" text-anchor="end">0.5</text>
<text x="238.7" y="660.4" font-size="78" text-anchor="end">1.0</text>
<text x="238.7" y="515.2" font-size="78" text-anchor="end">1.5</text>
<text x="238.7" y="369.9" font-size="78" text-anchor="end">2.0</text>
<text x="238.7" y="224.6" font-size="78" text-anchor="end">2.5</text>
<text x="238.7" y="79.3" font-size="78" text-anchor="end">3.0</text>
<text x="1687" y="1096.3" font-size="78" text-anchor="start">-10</text>
<text x="1687" y="951.0" font-size="78" text-anchor="start">0</text>
<text x="1687" y="805.7" font-size="78" text-anchor="start">10</text>
<text x="1687" y="660.4" font-size="78" text-anchor="start">20</text>
<text x="1687" y="515.2" font-size="78" text-anchor="start">30</text>
<text x="1687" y="369.9" font-size="78" text-anchor="start">40</text>
<text x="1687" y="224.6" font-size="78" text-anchor="start">50</text>
<text x="1687" y="79.3" font-size="78" text-anchor="start">60</text>
<text x="297.2" y="1186" font-size="78" text-anchor="middle">-50</text>
<text x="519.0" y="1186" font-size="78" text-anchor="middle">0</text>
<text x="740.7" y="1186" font-size="78" text-anchor="middle">50</text>
<text x="962.5" y="1186" font-size="78" text-anchor="middle">100</text>
<text x="1184.2" y="1186" font-size="78" text-anchor="middle">150</text>
<text x="1406.0" y="1186" font-size="78" text-anchor="middle">200</text>
<text x="1627.7" y="1186" font-size="78" text-anchor="middle">250</text>
<text transform="translate(944.6 1269) scale(1.02 1)" font-size="91.6" text-anchor="middle">Time(ns)</text>
<text transform="translate(98.9 598.9) rotate(-90)" font-size="91.4" text-anchor="middle" fill="#910082">Amplitude(V)</text>
<text transform="translate(1864.9 583.4) rotate(-90)" font-size="91.3" text-anchor="middle" fill="#008000">Amplitude(mV)</text>
<text transform="translate(1229 181) scale(1.01 1)" font-size="68.7">Pulse source</text>
<text transform="translate(1230.2 266) scale(1.01 1)" font-size="68.7">Sensor</text>
</g>
</svg>
</body></html>
